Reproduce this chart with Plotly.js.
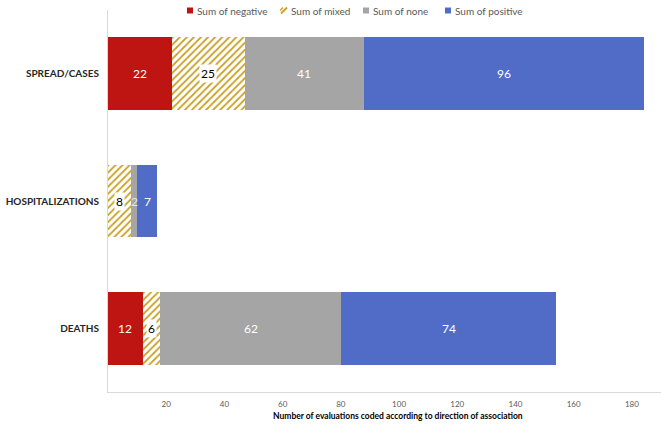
<!DOCTYPE html>
<html>
<head>
<meta charset="utf-8">
<script src="https://cdn.plot.ly/plotly-3.0.1.min.js"></script>
<style>
  html, body { margin: 0; padding: 0; background: #ffffff; }
  #chart { width: 661px; height: 429px; }
</style>
</head>
<body>
<div id="chart"></div>
<script>
// Evaluations by outcome, split by direction of association
const categories = ['SPREAD/CASES', 'HOSPITALIZATIONS', 'DEATHS'];
const negative = [22, 0, 12];
const mixed = [25, 8, 6];
const none = [41, 2, 62];
const positive = [96, 7, 74];
const tickValues = [20, 40, 60, 80, 100, 120, 140, 160, 180];

const seriesNames = ['Sum of negative', 'Sum of mixed', 'Sum of none', 'Sum of positive'];
const seriesValues = [negative, mixed, none, positive];
const xTitle = 'Number of evaluations coded according to direction of association';

const RED = '#BE1512';
const GOLD = '#C9A227';
const GREY = '#A5A5A5';
const BLUE = '#516CC6';
const FONT = 'Lato, "Open Sans", sans-serif';

const W = 661, H = 429;
const M = { l: 108, r: 0, t: 10, b: 37 };
const plotW = W - M.l - M.r;
const plotH = H - M.t - M.b;
const px = x => (x - M.l) / plotW;      // pixel -> paper x
const py = y => (H - M.b - y) / plotH;  // pixel -> paper y

function barTrace(i) {
  const t = {
    type: 'bar',
    orientation: 'h',
    name: seriesNames[i],
    y: categories,
    x: seriesValues[i],
    hoverinfo: 'name+x',
    marker: { color: [RED, 'white', GREY, BLUE][i], line: { width: 0 } },
    showlegend: false
  };
  if (i === 1) {
    t.marker.pattern = { shape: '/', fgcolor: GOLD, bgcolor: 'white', size: 5, solidity: 0.36, fillmode: 'replace' };
  }
  return t;
}
const traces = [0, 1, 2, 3].map(barTrace);

// Value labels centred on each segment
const annotations = [];
categories.forEach((cat, ci) => {
  let base = 0;
  seriesValues.forEach((vals, si) => {
    const v = vals[ci];
    if (v > 0) {
      const hatched = si === 1;
      annotations.push({
        x: base + v / 2, y: cat, xref: 'x', yref: 'y',
        text: String(v), showarrow: false,
        font: { family: FONT, size: 12, color: hatched ? '#000000' : (si === 2 && v < 5 ? '#E6E6E6' : '#FFFFFF') },
        bgcolor: hatched ? 'rgba(255,255,255,1)' : 'rgba(0,0,0,0)',
        borderpad: 1
      });
    }
    base += v;
  });
});

// Legend row along the top
const shapes = [];
const legendItems = [
  { icon: 187, text: 195, color: RED },
  { icon: 281, text: 289, color: GOLD, hatch: true },
  { icon: 363, text: 371, color: GREY },
  { icon: 445, text: 453, color: BLUE }
];
legendItems.forEach((it, i) => {
  if (it.hatch) {
    shapes.push({ type: 'line', xref: 'paper', yref: 'paper', x0: px(it.icon), y0: py(13.5), x1: px(it.icon + 6), y1: py(7.5), line: { color: GOLD, width: 2 } });
    shapes.push({ type: 'line', xref: 'paper', yref: 'paper', x0: px(it.icon - 1), y0: py(10.5), x1: px(it.icon + 2), y1: py(7.5), line: { color: GOLD, width: 1.5 } });
  } else {
    shapes.push({ type: 'rect', xref: 'paper', yref: 'paper', x0: px(it.icon), y0: py(13.5), x1: px(it.icon + 6), y1: py(7.5), fillcolor: it.color, line: { width: 0 } });
  }
  annotations.push({
    xref: 'paper', yref: 'paper', x: px(it.text), y: py(10.5),
    xanchor: 'left', yanchor: 'middle', showarrow: false,
    text: seriesNames[i],
    font: { family: FONT, size: 10, color: '#595959' }
  });
});

// Horizontal axis title
annotations.push({
  xref: 'paper', yref: 'paper', x: px(398), y: py(416),
  xanchor: 'center', yanchor: 'middle', showarrow: false,
  text: '<b>' + xTitle + '</b>',
  font: { family: FONT, size: 8.5, color: '#000000' }
});

const layout = {
  width: W, height: H,
  margin: M,
  barmode: 'stack',
  bargap: 0.43,
  paper_bgcolor: '#ffffff',
  plot_bgcolor: '#ffffff',
  font: { family: FONT },
  xaxis: {
    range: [0, 190],
    tickvals: tickValues,
    ticktext: tickValues.map(String),
    showgrid: false,
    zeroline: false,
    showline: true,
    linecolor: '#D9D9D9',
    linewidth: 1,
    ticks: '',
    tickfont: { family: FONT, size: 8, color: '#595959' },
    ticklabelstandoff: 4
  },
  yaxis: {
    autorange: 'reversed',
    showgrid: false,
    zeroline: false,
    showline: true,
    linecolor: '#D9D9D9',
    linewidth: 1,
    ticks: '',
    tickfont: { family: FONT, size: 10, color: '#262626', weight: 'bold' },
    ticklabelstandoff: 6
  },
  shapes: shapes,
  annotations: annotations,
  showlegend: false
};

Plotly.newPlot('chart', traces, layout, { displayModeBar: false, staticPlot: true });
</script>
</body>
</html>
